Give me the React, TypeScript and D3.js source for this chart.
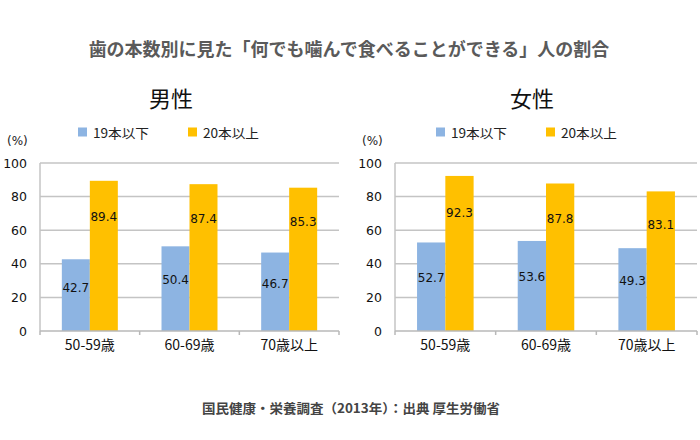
import React from 'react';
import * as d3 from 'd3';

// 年齢階級
const categories = ['50-59歳', '60-69歳', '70歳以上'];
const seriesNames = ['19本以下', '20本以上'];
const seriesColors = ['#8db4e2', '#ffc000'];

// 男性・女性の割合 (%)
const maleUnder19 = [42.7, 50.4, 46.7];
const maleOver20 = [89.4, 87.4, 85.3];
const femaleUnder19 = [52.7, 53.6, 49.3];
const femaleOver20 = [92.3, 87.8, 83.1];

const yTicks = [0, 20, 40, 60, 80, 100];

const W = 700;
const H = 440;
const TOP = 163;
const BOTTOM = 331;

const numFont = '"DejaVu Sans", Verdana, sans-serif';
const jpFont = '"Noto Sans CJK JP", "Noto Sans", sans-serif';

// label heights as fraction of value (labels sit inside the bars)
const labelFrac = [0.6, 0.76];

interface PanelProps {
  title: string;
  series: number[][];
  x0: number;
  x1: number;
  titleX: number;
  legendX: number;
}

const Panel: React.FC<PanelProps> = ({ title, series, x0, x1, titleX, legendX }) => {
  const y = d3.scaleLinear().domain([0, 100]).range([BOTTOM, TOP]);
  const xBand = d3.scaleBand<string>().domain(categories).range([x0, x1]).padding(0);
  const xSub = d3
    .scaleBand<string>()
    .domain(seriesNames)
    .range([0, xBand.bandwidth()])
    .paddingInner(0)
    .paddingOuter(0.78);

  const boundaries = [x0, ...categories.map(c => (xBand(c) || 0) + xBand.bandwidth())];

  return (
    <g>
      <text
        x={titleX}
        y={97}
        textAnchor="middle"
        dominantBaseline="central"
        fontFamily={jpFont}
        fontSize={22}
        fill="#111"
      >
        {title}
      </text>

      {/* legend */}
      {seriesNames.map((s, i) => (
        <g key={s} transform={`translate(${legendX + i * 110},132)`}>
          <rect x={0} y={-4.5} width={9} height={9} fill={seriesColors[i]} />
          <text
            x={15}
            y={0}
            dominantBaseline="central"
            fontFamily={jpFont}
            fontSize={13}
            textLength={56}
            lengthAdjust="spacingAndGlyphs"
            fill="#222"
          >
            {s}
          </text>
        </g>
      ))}

      <text x={x0 - 33} y={141} dominantBaseline="central" fontFamily={numFont} fontSize={12} fill="#222">
        (%)
      </text>

      {/* gridlines */}
      {yTicks.map(t => (
        <g key={t}>
          {t > 0 && (
            <line x1={x0} x2={x1} y1={y(t)} y2={y(t)} stroke="#c4c4c4" strokeWidth={1.5} />
          )}
          <text
            x={x0 - 13}
            y={y(t)}
            textAnchor="end"
            dominantBaseline="central"
            fontFamily={numFont}
            fontSize={12.5}
            fill="#111"
          >
            {t}
          </text>
        </g>
      ))}
      <line x1={x0} x2={x0} y1={TOP} y2={BOTTOM} stroke="#c4c4c4" strokeWidth={1.5} />

      {/* bars */}
      {categories.map((c, ci) => (
        <g key={c} transform={`translate(${xBand(c)},0)`}>
          {series.map((vals, si) => {
            const bx = xSub(seriesNames[si]) || 0;
            const bw = xSub.bandwidth();
            return (
              <g key={si}>
                <rect
                  x={bx}
                  y={y(vals[ci])}
                  width={bw}
                  height={y(0) - y(vals[ci])}
                  fill={seriesColors[si]}
                />
                <text
                  x={bx + bw / 2}
                  y={y(vals[ci] * labelFrac[si])}
                  textAnchor="middle"
                  dominantBaseline="central"
                  fontFamily={numFont}
                  fontSize={12}
                  fill="#111"
                >
                  {vals[ci].toFixed(1)}
                </text>
              </g>
            );
          })}
          <text
            x={xBand.bandwidth() / 2}
            y={344}
            textAnchor="middle"
            dominantBaseline="central"
            fontFamily={jpFont}
            fontSize={14}
            fill="#111"
          >
            {c}
          </text>
        </g>
      ))}

      {/* x axis */}
      <line x1={x0} x2={x1} y1={BOTTOM} y2={BOTTOM} stroke="#b8b8b8" strokeWidth={1.5} />
      {boundaries.map((b, i) => (
        <line key={i} x1={b} x2={b} y1={BOTTOM} y2={BOTTOM + 4} stroke="#b8b8b8" strokeWidth={1.5} />
      ))}
    </g>
  );
};

export default function App() {
  return (
    <svg
      width={W}
      height={H}
      viewBox={`0 0 ${W} ${H}`}
      style={{ position: 'absolute', left: 0, top: 0, background: '#fff' }}
    >
      <text
        x={349}
        y={48}
        textAnchor="middle"
        dominantBaseline="central"
        fontFamily={jpFont}
        fontSize={18}
        fontWeight="bold"
        fill="#5a5a5a"
      >
        歯の本数別に見た「何でも噛んで食べることができる」人の割合
      </text>

      <Panel
        title="男性"
        series={[maleUnder19, maleOver20]}
        x0={40}
        x1={339}
        titleX={171}
        legendX={78}
      />
      <Panel
        title="女性"
        series={[femaleUnder19, femaleOver20]}
        x0={395}
        x1={697}
        titleX={532}
        legendX={436}
      />

      <text
        x={351}
        y={407}
        textAnchor="middle"
        dominantBaseline="central"
        fontFamily={jpFont}
        fontSize={13}
        fontWeight="bold"
        textLength={298}
        lengthAdjust="spacingAndGlyphs"
        fill="#444"
      >
        国民健康・栄養調査（2013年）：出典 厚生労働省
      </text>
    </svg>
  );
}
